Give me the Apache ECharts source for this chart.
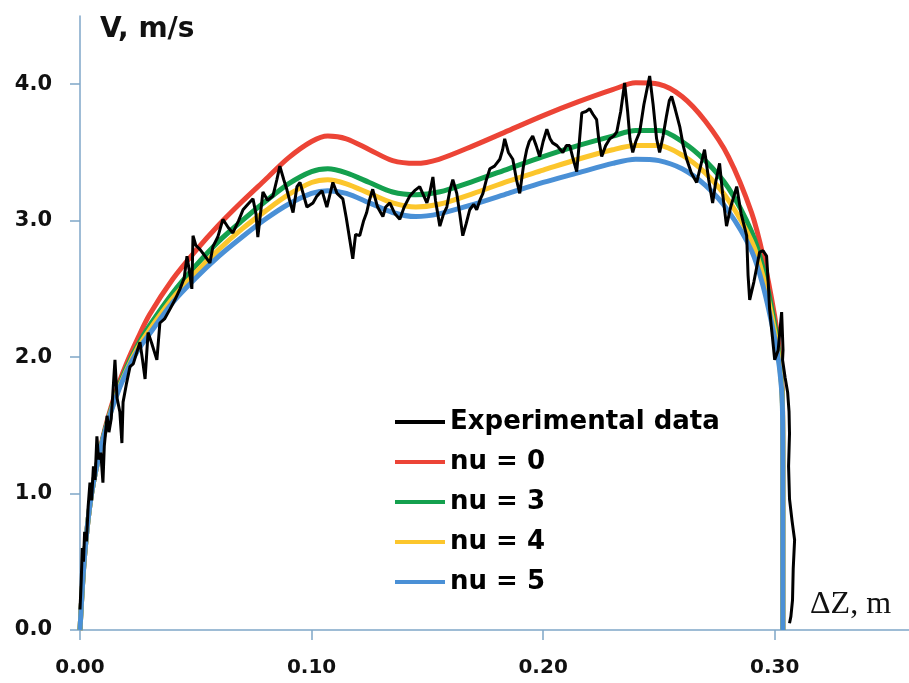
<!DOCTYPE html>
<html>
<head>
<meta charset="utf-8">
<script src="https://cdn.jsdelivr.net/npm/echarts@6/dist/echarts.min.js"></script>
<style>html,body{margin:0;padding:0;background:#fff;}#c{width:909px;height:683px;}</style>
</head>
<body>
<div id="c"></div>
<script>
// ---- data ----
const xTicks = [0, 0.1, 0.2, 0.3];
const yTicks = [0, 1, 2, 3, 4];
const seriesNames = ['Experimental data', 'nu = 0', 'nu = 3', 'nu = 4', 'nu = 5'];

const modelX = [0, 0.002, 0.005, 0.01, 0.015, 0.02, 0.025, 0.03, 0.04, 0.05, 0.06, 0.07, 0.08, 0.09, 0.1, 0.107, 0.115, 0.125, 0.135, 0.145, 0.155, 0.17, 0.185, 0.2, 0.215, 0.23, 0.24, 0.25, 0.26, 0.27, 0.28, 0.29, 0.295, 0.3, 0.302, 0.3033, 0.3035, 0.3035];
const nu0V = [0, 0.55, 1.0, 1.42, 1.72, 1.95, 2.14, 2.31, 2.57, 2.78, 2.97, 3.14, 3.30, 3.46, 3.58, 3.62, 3.60, 3.52, 3.44, 3.42, 3.45, 3.55, 3.66, 3.77, 3.87, 3.96, 4.01, 4.00, 3.91, 3.73, 3.47, 3.06, 2.74, 2.30, 2.05, 1.72, 1.2, 0];
const nu3V = [0, 0.55, 1.0, 1.41, 1.70, 1.92, 2.09, 2.23, 2.47, 2.67, 2.85, 3.00, 3.14, 3.27, 3.36, 3.38, 3.35, 3.28, 3.21, 3.19, 3.21, 3.29, 3.38, 3.47, 3.55, 3.62, 3.66, 3.66, 3.58, 3.44, 3.24, 2.92, 2.65, 2.24, 1.99, 1.70, 1.2, 0];
const nu4V = [0, 0.55, 1.0, 1.40, 1.69, 1.90, 2.07, 2.20, 2.43, 2.62, 2.79, 2.94, 3.07, 3.19, 3.28, 3.30, 3.27, 3.20, 3.13, 3.10, 3.12, 3.20, 3.29, 3.37, 3.45, 3.52, 3.55, 3.55, 3.48, 3.35, 3.15, 2.85, 2.59, 2.19, 1.96, 1.68, 1.2, 0];
const nu5V = [0, 0.55, 1.0, 1.40, 1.68, 1.89, 2.05, 2.17, 2.40, 2.58, 2.74, 2.88, 3.01, 3.12, 3.20, 3.22, 3.20, 3.13, 3.06, 3.03, 3.05, 3.12, 3.20, 3.28, 3.35, 3.42, 3.45, 3.44, 3.38, 3.26, 3.07, 2.78, 2.52, 2.14, 1.93, 1.66, 1.2, 0];

const expX = [0.0000,0.0005,0.0010,0.0015,0.0020,0.0028,0.0035,0.0043,0.0050,0.0058,0.0065,0.0073,0.0080,0.0090,0.0099,0.0105,0.0117,0.0125,0.0135,0.0151,0.0160,0.0172,0.0181,0.0186,0.0200,0.0216,0.0230,0.0259,0.0270,0.0281,0.0294,0.0310,0.0332,0.0345,0.0365,0.0388,0.0410,0.0432,0.0450,0.0462,0.0475,0.0483,0.0488,0.0500,0.0518,0.0540,0.0561,0.0574,0.0595,0.0617,0.0640,0.0660,0.0685,0.0704,0.0725,0.0747,0.0760,0.0768,0.0790,0.0810,0.0833,0.0850,0.0863,0.0880,0.0893,0.0905,0.0920,0.0937,0.0950,0.0980,0.1006,0.1023,0.1045,0.1066,0.1092,0.1110,0.1135,0.1150,0.1165,0.1178,0.1190,0.1208,0.1225,0.1238,0.1250,0.1264,0.1285,0.1308,0.1320,0.1338,0.1360,0.1381,0.1400,0.1424,0.1445,0.1467,0.1485,0.1498,0.1510,0.1524,0.1535,0.1554,0.1570,0.1584,0.1597,0.1610,0.1627,0.1640,0.1653,0.1668,0.1683,0.1700,0.1713,0.1727,0.1740,0.1755,0.1770,0.1790,0.1813,0.1825,0.1834,0.1850,0.1869,0.1885,0.1899,0.1915,0.1929,0.1940,0.1955,0.1970,0.1985,0.2000,0.2016,0.2030,0.2041,0.2060,0.2085,0.2100,0.2115,0.2130,0.2145,0.2155,0.2167,0.2185,0.2201,0.2215,0.2231,0.2240,0.2253,0.2270,0.2288,0.2305,0.2318,0.2335,0.2352,0.2365,0.2375,0.2387,0.2400,0.2417,0.2435,0.2460,0.2475,0.2490,0.2503,0.2518,0.2533,0.2545,0.2555,0.2570,0.2590,0.2605,0.2620,0.2640,0.2663,0.2680,0.2697,0.2715,0.2732,0.2745,0.2762,0.2775,0.2792,0.2810,0.2836,0.2855,0.2879,0.2885,0.2892,0.2910,0.2935,0.2950,0.2965,0.2972,0.2978,0.2990,0.3000,0.3015,0.3030,0.3036,0.3034,0.3045,0.3056,0.3062,0.3064,0.3060,0.3064,0.3075,0.3086,0.3080,0.3077,0.3070,0.3064];
const expV = [0.15,0.35,0.60,0.50,0.72,0.65,0.90,1.08,0.95,1.20,1.10,1.42,1.25,1.30,1.08,1.35,1.57,1.45,1.55,1.98,1.70,1.60,1.37,1.67,1.80,1.93,1.95,2.11,1.98,1.84,2.18,2.10,1.98,2.25,2.28,2.35,2.42,2.50,2.58,2.74,2.60,2.50,2.89,2.82,2.79,2.74,2.69,2.81,2.88,3.01,2.95,2.91,3.00,3.08,3.12,3.16,3.05,2.88,3.21,3.15,3.18,3.30,3.40,3.30,3.23,3.15,3.06,3.25,3.28,3.10,3.13,3.18,3.22,3.10,3.28,3.20,3.16,3.02,2.86,2.72,2.90,2.89,3.00,3.06,3.15,3.23,3.10,3.03,3.10,3.13,3.05,3.01,3.10,3.18,3.22,3.25,3.18,3.13,3.20,3.32,3.15,2.96,3.05,3.10,3.22,3.30,3.20,3.05,2.89,2.98,3.08,3.12,3.08,3.15,3.20,3.30,3.38,3.40,3.45,3.52,3.60,3.50,3.45,3.30,3.20,3.40,3.52,3.58,3.62,3.55,3.47,3.58,3.67,3.60,3.57,3.55,3.50,3.55,3.55,3.45,3.36,3.55,3.79,3.80,3.82,3.78,3.74,3.60,3.47,3.55,3.60,3.62,3.65,3.80,4.01,3.80,3.60,3.50,3.58,3.65,3.85,4.06,3.85,3.60,3.50,3.62,3.77,3.88,3.91,3.82,3.69,3.55,3.45,3.35,3.28,3.40,3.52,3.30,3.13,3.28,3.42,3.20,2.96,3.10,3.25,3.05,2.89,2.60,2.42,2.55,2.77,2.78,2.74,2.55,2.35,2.15,1.98,2.05,2.33,2.05,1.98,1.85,1.74,1.60,1.44,1.20,0.96,0.80,0.66,0.45,0.22,0.10,0.05];

// ---- build ----
const zip = (xs, ys) => xs.map((x, i) => [x, ys[i]]);
const axisColor = '#7fa6c8';
const colors = { 'Experimental data': '#000000', 'nu = 0': '#ec4436', 'nu = 3': '#14a04e', 'nu = 4': '#fcc62c', 'nu = 5': '#4a90d6' };

const chart = echarts.init(document.getElementById('c'), null, { renderer: 'canvas' });
const modelSeries = (name, vals) => ({
  name, type: 'line', data: zip(modelX, vals), showSymbol: false, symbol: 'none',
  smooth: 0.3, lineStyle: { color: colors[name], width: 5 }, itemStyle: { color: colors[name] }
});
chart.setOption({
  animation: false,
  backgroundColor: '#ffffff',
  grid: { left: 80, right: 0, top: 16, bottom: 53, containLabel: false },
  xAxis: {
    type: 'value', min: 0, max: 0.358,
    axisLine: { show: true, lineStyle: { color: axisColor, width: 1.5 } },
    axisTick: { show: true, inside: false, length: 10, customValues: xTicks, lineStyle: { color: axisColor, width: 1.5 } },
    axisLabel: { customValues: xTicks, formatter: v => Number(v).toFixed(2), margin: 28,
      fontFamily: 'DejaVu Sans', fontWeight: 'bold', fontSize: 20, color: '#111' },
    splitLine: { show: false }
  },
  yAxis: {
    type: 'value', min: 0, max: 4.5,
    axisLine: { show: true, lineStyle: { color: axisColor, width: 1.5 } },
    axisTick: { show: true, inside: false, length: 10, customValues: yTicks, lineStyle: { color: axisColor, width: 1.5 } },
    axisLabel: { customValues: yTicks, formatter: v => Number(v).toFixed(1), margin: 28,
      fontFamily: 'DejaVu Sans', fontWeight: 'bold', fontSize: 21, color: '#111' },
    splitLine: { show: false }
  },
  legend: {
    orient: 'vertical', left: 395, top: 408, padding: 0, itemGap: 12,
    itemWidth: 50, itemHeight: 4, icon: 'rect',
    data: seriesNames,
    textStyle: { fontFamily: 'DejaVu Sans', fontWeight: 'bold', fontSize: 26, lineHeight: 28, color: '#000' }
  },
  graphic: [
    { type: 'text', left: 100, top: 16, style: { text: 'V, m/s', fontFamily: 'DejaVu Sans', fontWeight: 'bold', fontSize: 28, fill: '#111' } },
    { type: 'text', left: 810, top: 589, style: { text: 'ΔZ, m', fontFamily: 'Liberation Serif', fontSize: 32, fill: '#111' } }
  ],
  series: [
    modelSeries('nu = 0', nu0V),
    modelSeries('nu = 3', nu3V),
    modelSeries('nu = 4', nu4V),
    modelSeries('nu = 5', nu5V),
    { name: 'Experimental data', type: 'line', data: zip(expX, expV), showSymbol: false, symbol: 'none',
      smooth: false, lineStyle: { color: '#000', width: 3 }, itemStyle: { color: '#000' } }
  ]
});
</script>
</body>
</html>
